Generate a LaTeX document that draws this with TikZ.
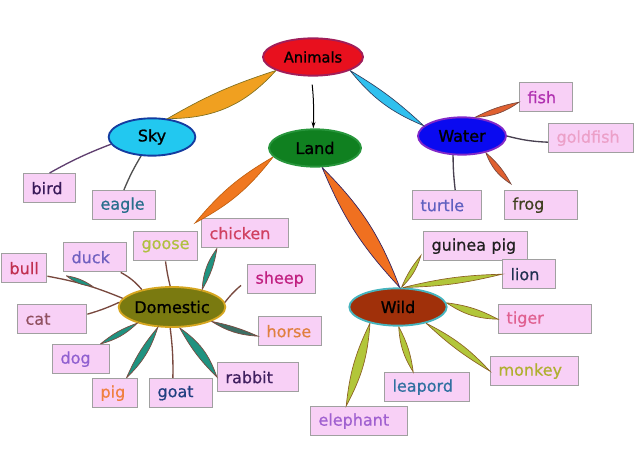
\documentclass[tikz,border=0pt]{standalone}
\usepackage{fontspec}
\setmainfont{DejaVu Sans}
\newfontfamily\hubfont{DejaVu Sans}[FakeBold=1.2]
\newfontfamily\wordfont{DejaVu Sans}[FakeBold=0.6]
\usetikzlibrary{shapes.geometric,calc,arrows.meta}

\definecolor{boxfill}{RGB}{248,208,246}
\definecolor{boxline}{RGB}{160,160,160}
\definecolor{twigbrown}{RGB}{120,72,62}
\definecolor{leafteal}{RGB}{32,146,128}
\definecolor{leafolive}{RGB}{178,198,58}
\definecolor{leafoutline}{RGB}{140,96,36}

\tikzset{every picture/.style={line width=0.75pt}}
\tikzset{
  hub/.style={ellipse, inner sep=0pt, line width=1.4pt, minimum width=72pt, minimum height=28pt,
    font=\hubfont\fontsize{12}{14}\selectfont},
  word/.style={anchor=north west, draw=boxline, fill=boxfill, line width=0.8pt, inner xsep=6pt,
    inner ysep=0pt, minimum height=22pt, align=left, font=\wordfont\fontsize{12}{14}\selectfont},
  leaf/.style={draw=leafoutline, line width=0.5pt},
  twig/.style={draw=twigbrown, line width=1pt}
}

\begin{document}
\begin{tikzpicture}[x=0.75pt,y=0.75pt,yscale=-1,xscale=1]
\useasboundingbox (0,0) rectangle (635,470);

%Ellipses
\node[hub, fill={rgb,255:red,232;green,16;blue,30}, draw={rgb,255:red,160;green,30;blue,90},
  minimum width=75pt, font=\hubfont\fontsize{11}{13}\selectfont] (animals) at (313,57) {Animals};
\node[hub, fill={rgb,255:red,34;green,200;blue,240}, draw={rgb,255:red,20;green,60;blue,160},
  minimum width=65pt] (sky) at (152,137) {Sky};
\node[hub, fill={rgb,255:red,16;green,128;blue,32}, draw={rgb,255:red,40;green,150;blue,60},
  minimum width=69pt] (land) at (315,148) {Land};
\node[hub, fill={rgb,255:red,10;green,10;blue,240}, draw={rgb,255:red,130;green,40;blue,200},
  minimum width=66pt] (water) at (462,136) {Water};
\node[hub, fill={rgb,255:red,122;green,122;blue,16}, draw={rgb,255:red,214;green,166;blue,32},
  minimum width=70pt, minimum height=30pt] (dom) at (172,307) {Domestic};
\node[hub, fill={rgb,255:red,160;green,48;blue,10}, draw={rgb,255:red,70;green,180;blue,190},
  minimum width=73pt] (wild) at (398,307) {Wild};

% Text Nodes
\node[word, text width=27pt, text={rgb,255:red,58;green,26;blue,90}] (bird) at (23,173) {bird};
\node[word, text width=35pt, text={rgb,255:red,40;green,110;blue,140}] (eagle) at (92,190) {eagle};
\node[word, text width=28pt, text={rgb,255:red,176;green,48;blue,176}] (fish) at (519,82) {fish};
\node[word, text width=52pt, text={rgb,255:red,236;green,160;blue,200}] (goldfish) at (548,123) {goldfish};
\node[word, text width=40pt, text={rgb,255:red,96;green,96;blue,192}] (turtle) at (412,190) {turtle};
\node[word, text width=43pt, text={rgb,255:red,64;green,64;blue,32}] (frog) at (504,190) {frog};
\node[word, text width=53pt, text={rgb,255:red,208;green,64;blue,96}] (chicken) at (201,218) {chicken};
\node[word, text width=36pt, text={rgb,255:red,176;green,192;blue,64}] (goose) at (133,231) {goose};
\node[word, text width=35pt, text={rgb,255:red,112;green,96;blue,192}] (duck) at (63,242) {duck};
\node[word, text width=22pt, text={rgb,255:red,192;green,48;blue,80}] (bull) at (1,253) {bull};
\node[word, text width=39pt, text={rgb,255:red,192;green,32;blue,128}] (sheep) at (247,264) {sheep};
\node[word, text width=40pt, text={rgb,255:red,144;green,80;blue,96}] (cat) at (17,304) {cat};
\node[word, text width=35pt, text={rgb,255:red,224;green,128;blue,64}] (horse) at (258,316) {horse};
\node[word, text width=31pt, text={rgb,255:red,144;green,96;blue,208}] (dog) at (52,344) {dog};
\node[word, text width=49pt, text={rgb,255:red,64;green,32;blue,96}] (rabbit) at (217,362) {rabbit};
\node[word, text width=22pt, text={rgb,255:red,240;green,128;blue,64}] (pig) at (92,378) {pig};
\node[word, text width=35pt, text={rgb,255:red,32;green,64;blue,128}] (goat) at (149,378) {goat};
\node[word, text width=66pt, text={rgb,255:red,32;green,32;blue,32}] (gpig) at (423,231) {guinea pig};
\node[word, text width=28pt, text={rgb,255:red,32;green,48;blue,80}] (lion) at (502,259) {lion};
\node[word, text width=58pt, text={rgb,255:red,224;green,96;blue,144}] (tiger) at (498,304) {tiger};
\node[word, text width=54pt, text={rgb,255:red,176;green,176;blue,48}] (monkey) at (490,356) {monkey};
\node[word, text width=52pt, text={rgb,255:red,48;green,112;blue,160}] (leapord) at (384,372) {leapord};
\node[word, text width=61pt, text={rgb,255:red,160;green,96;blue,208}] (elephant) at (310,406) {elephant};

%Main branches
\draw[leaf, draw={rgb,255:red,128;green,112;blue,32}, fill={rgb,255:red,240;green,160;blue,32}]
  (animals.200) to[bend left=6] (sky.50) to[bend left=24] (animals.200);
\draw[-{Stealth[length=5pt,width=3pt]}, shorten <=6pt] (animals.265) to[bend right=4] (land.95);
\draw[leaf, draw={rgb,255:red,48;green,64;blue,96}, fill={rgb,255:red,48;green,192;blue,238}]
  (animals.-20) to[bend left=14] (water.165) to[bend left=6] (animals.-20);
\draw[leaf, draw={rgb,255:red,192;green,96;blue,16}, fill={rgb,255:red,240;green,120;blue,32}]
  (land.192) to[bend left=10] ($(chicken.north west)+(-6,5)$) to[bend left=12] (land.192);
\draw[leaf, draw={rgb,255:red,48;green,32;blue,96}, fill={rgb,255:red,240;green,112;blue,32}]
  (land.-70) to[bend left=10] (wild.85) to[bend left=12] (land.-70);

%Sky
\draw[twig, draw={rgb,255:red,96;green,64;blue,112}] (sky.190) to[bend left=4] (bird.north);
\draw[twig, draw={rgb,255:red,80;green,80;blue,80}] (sky.240) to[bend left=4] (eagle.north);

%Water
\draw[leaf, draw=twigbrown, fill={rgb,255:red,224;green,96;blue,48}]
  (water.55) to[bend left=16] ($(fish.west)+(0,5)$) to[bend left=8] (water.55);
\draw[twig, draw={rgb,255:red,72;green,64;blue,80}] (water.east) to[bend left=6] ($(goldfish.west)+(0,4)$);
\draw[twig, draw={rgb,255:red,72;green,64;blue,80}] (water.-115) to[bend left=3] ($(turtle.north)+(8,0)$);
\draw[leaf, draw=twigbrown, fill={rgb,255:red,224;green,96;blue,48}]
  (water.-35) to[bend left=18] ($(frog.north west)+(7,-6)$) to[bend left=10] (water.-35);

%Domestic
\draw[twig] ($(bull.east)+(0,8)$) to[bend right=6] (dom.170);
\draw[leaf, draw=twigbrown, fill=leafteal]
  ($(bull.east)!0.25!(dom.170)$) to[bend left=16] ($(bull.east)!0.6!(dom.170)$)
  to[bend left=12] ($(bull.east)!0.25!(dom.170)$);
\draw[twig] ($(duck.south east)+(-6,0)$) to[bend right=10] (dom.150);
\draw[twig] (goose.south) to[bend left=3] (dom.95);
\draw[leaf, draw=twigbrown, fill=leafteal]
  ($(chicken.south west)+(16,0)$) to[bend left=16] (dom.30) to[bend left=10] ($(chicken.south west)+(16,0)$);
\draw[twig] ($(sheep.south west)+(-6,-9)$) to[bend left=6] (dom.5);
\draw[leaf, draw=twigbrown, fill={rgb,255:red,60;green,110;blue,100}]
  (dom.-20) to[bend left=14] ($(horse.west)+(0,5)$) to[bend left=6] (dom.-20);
\draw[twig] ($(cat.east)+(0,-5)$) to[bend left=4] (dom.175);
\draw[leaf, draw=twigbrown, fill=leafteal]
  ($(dog.north east)+(-10,0)$) to[bend left=14] (dom.205) to[bend left=10] ($(dog.north east)+(-10,0)$);
\draw[leaf, draw=twigbrown, fill=leafteal]
  ($(pig.north east)+(-12,0)$) to[bend left=14] (dom.235) to[bend left=8] ($(pig.north east)+(-12,0)$);
\draw[twig] (dom.265) to[bend right=4] ($(goat.north)+(-8,0)$);
\draw[leaf, draw=twigbrown, fill=leafteal]
  (dom.-70) to[bend left=8] (rabbit.west) to[bend left=18] (dom.-70);

%Wild
\draw[leaf, fill=leafolive] (wild.80) to[bend left=14] ($(gpig.south west)+(-2,-6)$) to[bend left=8] (wild.80);
\draw[leaf, fill=leafolive] (wild.75) to[bend left=6] (lion.west) to[bend left=6] (wild.75);
\draw[leaf, fill=leafolive] (wild.5) to[bend left=16] (tiger.west) to[bend left=10] (wild.5);
\draw[leaf, fill=leafolive] (wild.-30) to[bend left=6] (monkey.west) to[bend left=10] (wild.-30);
\draw[leaf, fill=leafolive] (wild.-88) to[bend left=14] ($(leapord.north)+(-14,0)$) to[bend left=10] (wild.-88);
\draw[leaf, fill=leafolive] (wild.210) to[bend left=10] ($(elephant.north)+(-13,0)$) to[bend left=12] (wild.210);

\end{tikzpicture}
\end{document}
